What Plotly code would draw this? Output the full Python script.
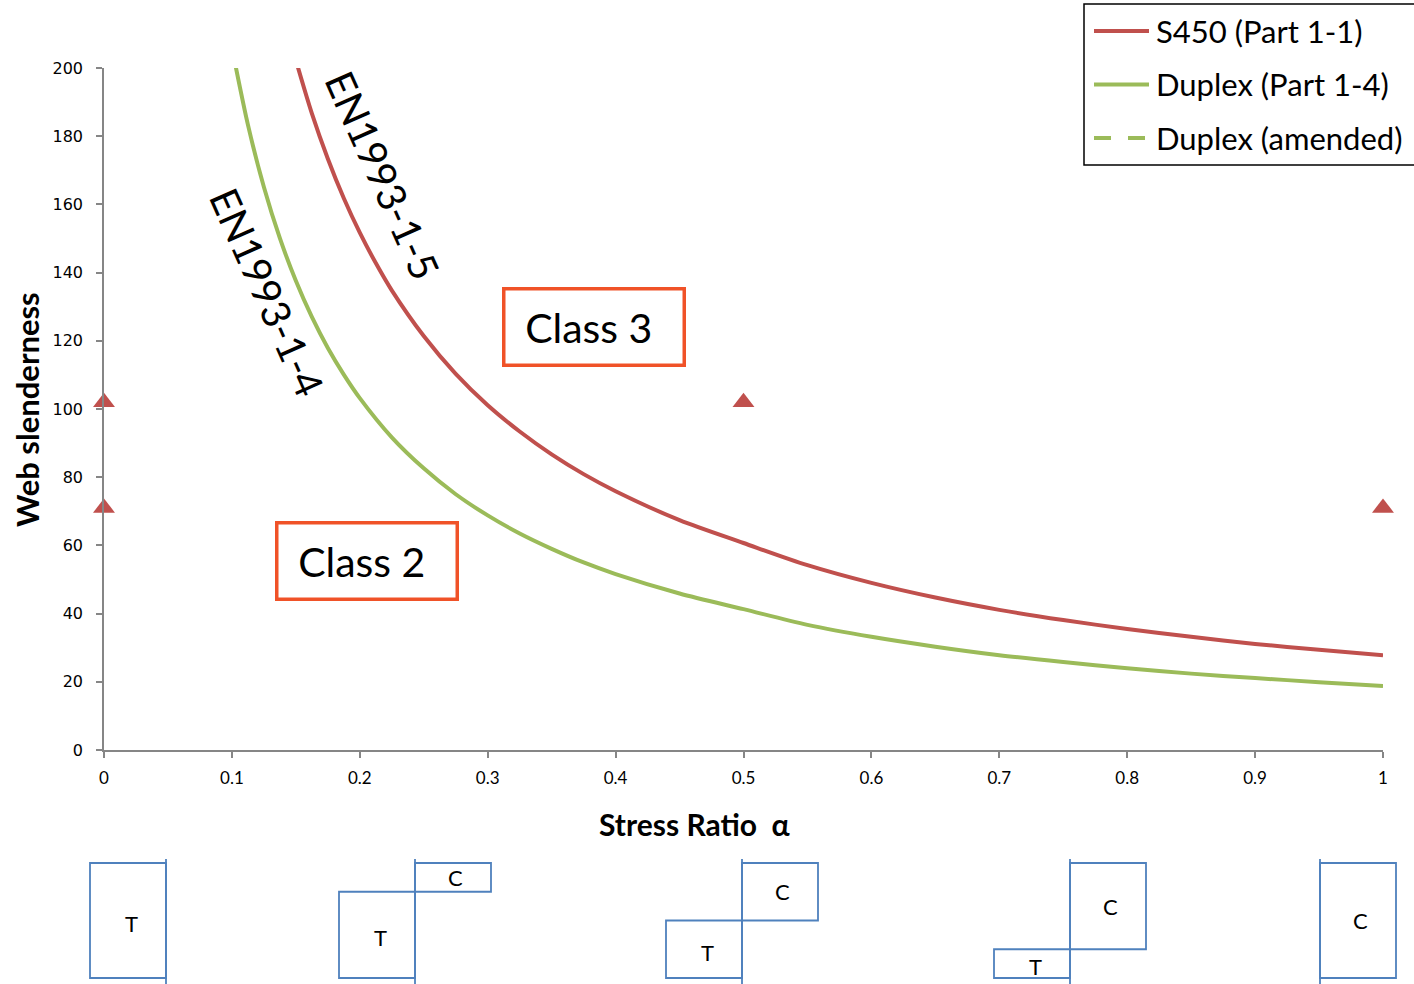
import plotly.graph_objects as go

# ---- data -----------------------------------------------------------------
# Stress ratio alpha (fraction of the web depth in compression)
alpha_s450 = [0.15, 0.1625, 0.175, 0.1875, 0.2, 0.2125, 0.225, 0.25, 0.275, 0.3, 0.325, 0.35,
              0.375, 0.4, 0.45, 0.5, 0.55, 0.6, 0.65, 0.7, 0.75, 0.8, 0.85, 0.9, 0.95, 1.0]
slender_s450 = [202.3, 186.7, 173.4, 161.8, 151.7, 142.8, 134.8, 121.4, 110.3, 101.1, 93.4, 86.7,
                80.9, 75.9, 67.4, 60.7, 54.2, 49.0, 44.7, 41.1, 38.1, 35.5, 33.2, 31.1, 29.4, 27.8]

alpha_duplex = [0.1, 0.1125, 0.125, 0.1375, 0.15, 0.1625, 0.175, 0.1875, 0.2, 0.225, 0.25, 0.275,
                0.3, 0.325, 0.35, 0.375, 0.4, 0.45, 0.5, 0.55, 0.6, 0.65, 0.7, 0.75, 0.8, 0.85,
                0.9, 0.95, 1.0]
slender_duplex = [206.0, 183.4, 165.1, 150.1, 137.6, 127.0, 117.9, 110.1, 103.2, 91.7, 82.6, 75.0,
                  68.8, 63.5, 59.0, 55.0, 51.6, 45.9, 41.3, 36.7, 33.2, 30.3, 27.8, 25.8, 24.0, 22.4,
                  21.1, 19.9, 18.8]

# Specimens
test_alpha = [0, 0, 0.5, 1]
test_slender = [102, 71, 102, 71]

legend_labels = ["S450 (Part 1-1)", "Duplex (Part 1-4)", "Duplex (amended)"]
x_ticks = [0, 0.1, 0.2, 0.3, 0.4, 0.5, 0.6, 0.7, 0.8, 0.9, 1]
y_ticks = [0, 20, 40, 60, 80, 100, 120, 140, 160, 180, 200]

# Stress-block sketches below the axis: alpha of each case and web position (px)
sketch_alpha = [0, 0.25, 0.5, 0.75, 1]
sketch_web_px = [166, 415, 742, 1070, 1320]

# ---- styling / geometry ---------------------------------------------------
RED = "#C0504D"
GREEN = "#9BBB59"
BLUE = "#4F81BD"
ORANGE = "#F05228"
W, H = 1414, 984
L, R, T, B = 104, 31, 68, 234
PW, PH = W - L - R, H - T - B
SANS = "Lato, 'Open Sans', sans-serif"


def px_x(px):
    return (px - L) / PW


def px_y(py):
    return (H - B - py) / PH


fig = go.Figure()

fig.add_trace(go.Scatter(x=alpha_s450, y=slender_s450, mode="lines", name=legend_labels[0],
                         line=dict(color=RED, width=4, shape="spline", smoothing=0.8),
                         showlegend=False))
fig.add_trace(go.Scatter(x=alpha_duplex, y=slender_duplex, mode="lines", name=legend_labels[1],
                         line=dict(color=GREEN, width=4, shape="spline", smoothing=0.8),
                         showlegend=False))
fig.add_trace(go.Scatter(x=test_alpha, y=test_slender, mode="markers", name="Specimens",
                         marker=dict(symbol="triangle-up", size=19, color=RED),
                         cliponaxis=False, showlegend=False))

shapes = []
annotations = []

# Class boxes
for txt, ax, ay in [("Class 3", 0.3831, 124.0), ("Class 2", 0.2056, 55.4)]:
    annotations.append(dict(x=ax, y=ay, xref="x", yref="y", text=txt + "&nbsp;", showarrow=False,
                            font=dict(family=SANS, size=41, color="black"),
                            bordercolor=ORANGE, borderwidth=3.5, borderpad=0,
                            width=177, height=73, xanchor="center", yanchor="middle"))

# Curve labels
for txt, ax, ay in [("EN1993-1-5", 0.2175, 168.5), ("EN1993-1-4", 0.1275, 134.3)]:
    annotations.append(dict(x=ax, y=ay, xref="x", yref="y", text=txt, showarrow=False,
                            textangle=66, font=dict(family=SANS, size=40, color="black"),
                            xanchor="center", yanchor="middle"))

# Axis titles
annotations.append(dict(x=px_x(694), y=px_y(824), xref="paper", yref="paper",
                        text="<b>Stress Ratio  α</b>", showarrow=False,
                        font=dict(family=SANS, size=30, color="black"),
                        xanchor="center", yanchor="middle"))
annotations.append(dict(x=px_x(27), y=px_y(410), xref="paper", yref="paper",
                        text="<b>Web slenderness</b>", showarrow=False, textangle=-90,
                        font=dict(family=SANS, size=31, color="black"),
                        xanchor="center", yanchor="middle"))

# Legend
shapes.append(dict(type="rect", xref="paper", yref="paper",
                   x0=px_x(1084), x1=px_x(1418), y0=px_y(4), y1=px_y(165),
                   line=dict(color="black", width=1.5), fillcolor="white"))
legend_styles = [(RED, "solid"), (GREEN, "solid"), (GREEN, "17px,17px")]
for i, (lab, (col, dash)) in enumerate(zip(legend_labels, legend_styles)):
    yy = 31 + i * 53.5
    shapes.append(dict(type="line", xref="paper", yref="paper",
                       x0=px_x(1094), x1=px_x(1149), y0=px_y(yy), y1=px_y(yy),
                       line=dict(color=col, width=4, dash=dash)))
    annotations.append(dict(x=px_x(1154), y=px_y(yy), xref="paper", yref="paper",
                            text=lab, showarrow=False, xanchor="left", yanchor="middle",
                            font=dict(family=SANS, size=31, color="black")))

# Stress-block sketches
top_px, bot_px, blk_w = 863, 978, 76
for a, web in zip(sketch_alpha, sketch_web_px):
    split = top_px + a * (bot_px - top_px)
    # web line
    shapes.append(dict(type="line", xref="paper", yref="paper",
                       x0=px_x(web), x1=px_x(web), y0=px_y(859), y1=px_y(984),
                       line=dict(color=BLUE, width=1.8)))
    if a > 0:  # compression block
        shapes.append(dict(type="rect", xref="paper", yref="paper",
                           x0=px_x(web), x1=px_x(web + blk_w), y0=px_y(top_px), y1=px_y(split),
                           line=dict(color=BLUE, width=1.8)))
        annotations.append(dict(x=px_x(web + blk_w / 2 + 2), y=px_y((top_px + split) / 2),
                                xref="paper", yref="paper", text="C", showarrow=False,
                                font=dict(family=SANS, size=22, color="black"),
                                xanchor="center", yanchor="middle"))
    if a < 1:  # tension block
        shapes.append(dict(type="rect", xref="paper", yref="paper",
                           x0=px_x(web - blk_w), x1=px_x(web), y0=px_y(split), y1=px_y(bot_px),
                           line=dict(color=BLUE, width=1.8)))
        annotations.append(dict(x=px_x(web - blk_w / 2 + 3), y=px_y((split + bot_px) / 2 + 3),
                                xref="paper", yref="paper", text="T", showarrow=False,
                                font=dict(family=SANS, size=22, color="black"),
                                xanchor="center", yanchor="middle"))

fig.update_layout(
    width=W, height=H,
    margin=dict(l=L, r=R, t=T, b=B, pad=0),
    paper_bgcolor="white", plot_bgcolor="white",
    shapes=shapes, annotations=annotations,
    showlegend=False,
    xaxis=dict(range=[0, 1], tickvals=x_ticks, ticktext=[f"{v:g}" for v in x_ticks],
               showgrid=False, zeroline=False, showline=True, linecolor="#868686", linewidth=1.5,
               ticks="outside", ticklen=6, tickcolor="#868686", tickwidth=1.5,
               tickfont=dict(family=SANS, size=17, color="black"), ticklabelstandoff=6),
    yaxis=dict(range=[0, 200], tickvals=y_ticks,
               showgrid=False, zeroline=False, showline=True, linecolor="#868686", linewidth=1.5,
               ticks="outside", ticklen=6, tickcolor="#868686", tickwidth=1.5,
               tickfont=dict(family="DejaVu Sans", size=16, color="black"), ticklabelstandoff=10),
)

fig.write_html("out.html")
